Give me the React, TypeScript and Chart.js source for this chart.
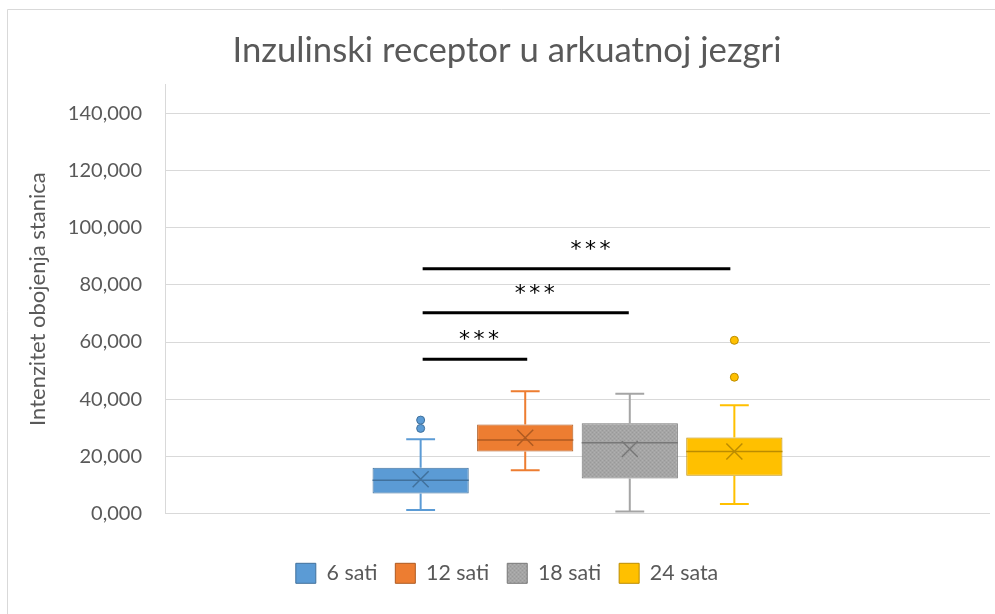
import React, { useEffect, useRef } from "react";
import { Chart, registerables } from "chart.js";

Chart.register(...registerables);

const seriesLabels = ["6 sati", "12 sati", "18 sati", "24 sata"];
const mins = [1.3, 15.2, 0.7, 3.4];
const q1s = [7.0, 21.7, 12.3, 13.2];
const medians = [11.7, 25.7, 24.8, 21.7];
const q3s = [16.0, 31.2, 31.6, 26.6];
const maxs = [26.0, 42.8, 41.9, 37.9];
const means = [12.0, 26.5, 22.6, 21.7];
const outliers: number[][] = [[29.8, 32.7], [], [], [47.7, 60.6]];

// significance bars: from series index a to series index b at value y
const sigFrom = [0, 0, 0];
const sigTo = [1, 2, 3];
const sigY = [54.0, 70.2, 85.6];
const sigText = ["***", "***", "***"];

const yTicksMax = 140;

const fills = ["#5B9BD5", "#ED7D31", "#A5A5A5", "#FFC000"];
const borders = ["#41719C", "#AE5A21", "#787878", "#BC8C00"];

const FONT = "Lato, 'Open Sans', sans-serif";

function makeGrayPattern(): any {
  const c = document.createElement("canvas");
  c.width = 4;
  c.height = 4;
  const g = c.getContext("2d")!;
  g.fillStyle = "#A5A5A5";
  g.fillRect(0, 0, 4, 4);
  g.fillStyle = "#999999";
  g.fillRect(0, 0, 1, 1);
  g.fillRect(2, 2, 1, 1);
  g.fillStyle = "#B0B0B0";
  g.fillRect(2, 0, 1, 1);
  g.fillRect(0, 2, 1, 1);
  return g.createPattern(c, "repeat");
}

const framePlugin = {
  id: "frame",
  beforeDraw(chart: any) {
    const { ctx, width, height } = chart;
    ctx.save();
    ctx.fillStyle = "#ffffff";
    ctx.fillRect(0, 0, width, height);
    ctx.strokeStyle = "#d9d9d9";
    ctx.lineWidth = 1;
    ctx.beginPath();
    ctx.moveTo(7.5, height);
    ctx.lineTo(7.5, 9.5);
    ctx.lineTo(width, 9.5);
    ctx.stroke();
    ctx.restore();
  },
};

const boxPlugin = {
  id: "boxExtras",
  afterDatasetsDraw(chart: any) {
    const { ctx } = chart;
    const y = chart.scales.y;
    ctx.save();
    for (let i = 0; i < seriesLabels.length; i++) {
      const meta = chart.getDatasetMeta(i);
      const bar = meta.data[0];
      if (!bar) continue;
      const x = bar.x;
      const w = bar.width;
      const cap = w * 0.15;
      const yMin = y.getPixelForValue(mins[i]);
      const yMax = y.getPixelForValue(maxs[i]);
      const yQ1 = y.getPixelForValue(q1s[i]);
      const yQ3 = y.getPixelForValue(q3s[i]);
      const yMed = y.getPixelForValue(medians[i]);
      const yMean = y.getPixelForValue(means[i]);
      // whiskers
      ctx.strokeStyle = fills[i];
      ctx.lineWidth = 2;
      ctx.beginPath();
      ctx.moveTo(x, yQ3);
      ctx.lineTo(x, yMax);
      ctx.moveTo(x - cap, yMax);
      ctx.lineTo(x + cap, yMax);
      ctx.moveTo(x, yQ1);
      ctx.lineTo(x, yMin);
      ctx.moveTo(x - cap, yMin);
      ctx.lineTo(x + cap, yMin);
      ctx.stroke();
      // median
      ctx.strokeStyle = borders[i];
      ctx.lineWidth = 1.5;
      ctx.beginPath();
      ctx.moveTo(x - w / 2, yMed);
      ctx.lineTo(x + w / 2, yMed);
      ctx.stroke();
      // mean X
      const s = 8;
      ctx.lineWidth = 1.5;
      ctx.beginPath();
      ctx.moveTo(x - s, yMean - s);
      ctx.lineTo(x + s, yMean + s);
      ctx.moveTo(x + s, yMean - s);
      ctx.lineTo(x - s, yMean + s);
      ctx.stroke();
      // outliers
      for (const v of outliers[i]) {
        const py = y.getPixelForValue(v);
        ctx.beginPath();
        ctx.arc(x, py, 4, 0, Math.PI * 2);
        ctx.fillStyle = fills[i];
        ctx.fill();
        ctx.strokeStyle = borders[i];
        ctx.lineWidth = 1;
        ctx.stroke();
      }
    }
    // significance bars
    for (let k = 0; k < sigY.length; k++) {
      const a = chart.getDatasetMeta(sigFrom[k]).data[0];
      const b = chart.getDatasetMeta(sigTo[k]).data[0];
      if (!a || !b) continue;
      const py = y.getPixelForValue(sigY[k]);
      const x0 = a.x + 2;
      const x1 = b.x + 2 - k * 3;
      ctx.strokeStyle = "#000000";
      ctx.lineWidth = 3;
      ctx.beginPath();
      ctx.moveTo(x0, py);
      ctx.lineTo(x1, py);
      ctx.stroke();
      ctx.fillStyle = "#000000";
      ctx.font = "22px 'DejaVu Sans'";
      ctx.textAlign = "center";
      ctx.textBaseline = "middle";
      const cx = (x0 + x1) / 2 + 4 + k * 5;
      const chars = sigText[k].split("");
      const pitch = 14.5;
      chars.forEach((c, j) => {
        ctx.fillText(c, cx + (j - (chars.length - 1) / 2) * pitch, py - 19);
      });
    }
    ctx.restore();
  },
};

export default function App() {
  const ref = useRef<HTMLCanvasElement | null>(null);
  useEffect(() => {
    if (!ref.current) return;
    const grayPattern = makeGrayPattern();
    const bg = fills.map((f, i) => (i === 2 && grayPattern ? grayPattern : f));
    const chart = new Chart(ref.current, {
      type: "bar",
      data: {
        labels: [""],
        datasets: seriesLabels.map((lab, i) => ({
          label: lab,
          data: [[q1s[i], q3s[i]] as any],
          backgroundColor: bg[i],
          borderColor: borders[i],
          borderWidth: 1,
          borderSkipped: false,
          categoryPercentage: 0.507,
          barPercentage: 0.92,
        })),
      },
      options: {
        responsive: false,
        animation: false,
        layout: { padding: { left: 24, right: 5, top: 10, bottom: 20 } },
        plugins: {
          tooltip: { enabled: false },
          title: {
            display: true,
            text: "Inzulinski receptor u arkuatnoj jezgri",
            color: "#595959",
            font: { family: FONT, size: 34.7, weight: "normal" as any },
            padding: { top: 20, bottom: 13 },
          },
          legend: {
            position: "bottom",
            labels: {
              boxWidth: 20,
              boxHeight: 20,
              padding: 18,
              color: "#595959",
              font: { family: FONT, size: 21.4 },
            },
          },
        },
        scales: {
          x: {
            type: "category",
            grid: { display: false },
            border: { display: false },
            ticks: { display: false },
            afterFit: (scale: any) => {
              scale.height = 31;
            },
          },
          y: {
            min: 0,
            max: 150,
            ticks: {
              stepSize: 20,
              padding: 23,
              color: "#595959",
              font: { family: FONT, size: 20 },
              callback: (v: any) => Number(v).toFixed(3).replace(".", ","),
            },
            afterBuildTicks: (scale: any) => {
              scale.ticks = scale.ticks.filter((t: any) => t.value <= yTicksMax);
            },
            afterFit: (scale: any) => {
              scale.width = 141;
            },
            grid: { color: "#d9d9d9", drawTicks: false },
            border: { display: true, color: "#d9d9d9" },
            title: {
              display: true,
              text: "Intenzitet obojenja stanica",
              color: "#595959",
              font: { family: FONT, size: 22 },
              padding: { top: 1, bottom: 0 },
            },
          },
        },
      },
      plugins: [framePlugin, boxPlugin],
    });
    return () => chart.destroy();
  }, []);
  return (
    <div style={{ position: "fixed", left: 0, top: 0, width: 995, height: 614 }}>
      <canvas ref={ref} width={995} height={614} style={{ width: 995, height: 614 }} />
    </div>
  );
}
